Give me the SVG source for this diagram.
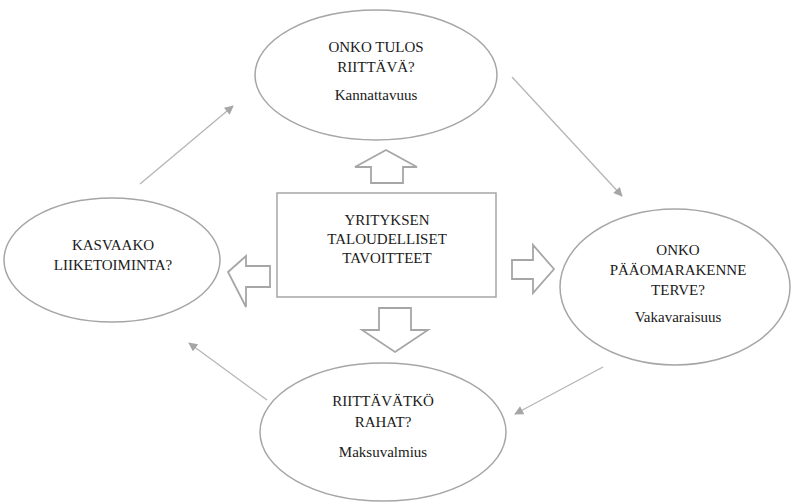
<svg xmlns="http://www.w3.org/2000/svg" width="792" height="504" viewBox="0 0 792 504">
<style>
.node{fill:#fff;stroke:#a6a6a6;stroke-width:1.5}
.blk{fill:#fff;stroke:#a6a6a6;stroke-width:1.8;stroke-linejoin:miter}
.t{font-family:'Liberation Serif','DejaVu Serif','Times New Roman',Times,serif;font-size:15px;fill:#1a1a1a;text-anchor:middle}
.con{stroke:#b5b5b5;stroke-width:1.3;fill:none}
</style>
<defs>
<marker id="ah" viewBox="0 0 10 10" refX="9" refY="5" markerWidth="10" markerHeight="9" markerUnits="userSpaceOnUse" orient="auto">
<path d="M0,0 L10,5 L0,10 z" fill="#a6a6a6"/>
</marker>
</defs>
<rect width="792" height="504" fill="#fff"/>
<g id="connectors">
<line class="con" x1="140" y1="184" x2="233" y2="106" marker-end="url(#ah)"/>
<line class="con" x1="512" y1="77" x2="622" y2="196" marker-end="url(#ah)"/>
<line class="con" x1="603" y1="367" x2="515" y2="414" marker-end="url(#ah)"/>
<line class="con" x1="267" y1="400" x2="189" y2="343" marker-end="url(#ah)"/>
</g>
<g id="block-arrows">
<polygon class="blk" points="386,150 417,167 403,167 403,183 371,183 371,167 355,167"/>
<polygon class="blk" points="395,352 428,330 411,330 411,308 379,308 379,330 362,330"/>
<polygon class="blk" points="228,272 246,256 246,266 270,266 270,287 246,287 246,307"/>
<polygon class="blk" points="554,269 533,245 533,260 512,260 512,279 533,279 533,293"/>
</g>
<g id="center">
<rect class="node" x="277" y="193" width="219" height="104"/>
<text class="t" font-family="Liberation Serif, serif" x="387" y="225">YRITYKSEN</text>
<text class="t" x="387" y="244">TALOUDELLISET</text>
<text class="t" x="387" y="263">TAVOITTEET</text>
</g>
<g id="top">
<ellipse class="node" cx="376" cy="75" rx="121" ry="65"/>
<text class="t" x="376" y="52">ONKO TULOS</text>
<text class="t" x="376" y="72">RIITTÄVÄ?</text>
<text class="t" x="376" y="100">Kannattavuus</text>
</g>
<g id="left">
<ellipse class="node" cx="112" cy="260" rx="108" ry="62"/>
<text class="t" x="113" y="250">KASVAAKO</text>
<text class="t" x="113" y="270">LIIKETOIMINTA?</text>
</g>
<g id="right">
<ellipse class="node" cx="675" cy="287" rx="115" ry="78"/>
<text class="t" x="678" y="255">ONKO</text>
<text class="t" x="678" y="275">PÄÄOMARAKENNE</text>
<text class="t" x="678" y="295">TERVE?</text>
<text class="t" x="678" y="322">Vakavaraisuus</text>
</g>
<g id="bottom">
<ellipse class="node" cx="383" cy="432" rx="123" ry="69"/>
<text class="t" x="383" y="406">RIITTÄVÄTKÖ</text>
<text class="t" x="383" y="427">RAHAT?</text>
<text class="t" x="383" y="457">Maksuvalmius</text>
</g>
</svg>
